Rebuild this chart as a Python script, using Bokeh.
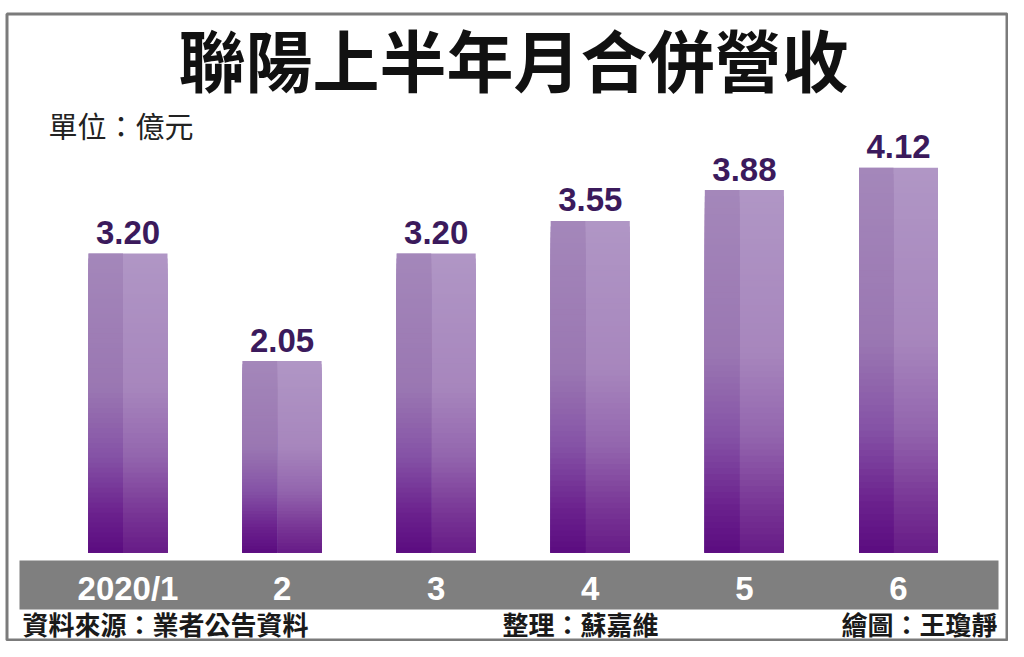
from bokeh.plotting import figure
from bokeh.models import Range1d, ColumnDataSource
from bokeh.core.properties import value
from bokeh.embed import file_html
from bokeh.resources import INLINE

# ---- data ----
months = ["2020/1", "2", "3", "4", "5", "6"]
revenue = [3.20, 2.05, 3.20, 3.55, 3.88, 4.12]
value_labels = ["3.20", "2.05", "3.20", "3.55", "3.88", "4.12"]
title_text = "聯陽上半年月合併營收"
unit_text = "單位：億元"
source_text = "資料來源：業者公告資料"
editor_text = "整理：蘇嘉維"
artist_text = "繪圖：王瓊靜"

# ---- pixel helpers (picture coordinates -> data coordinates) ----
PX_PER_CAT = 154.1
CAT0_PX = 127.5
PX_PER_UNIT = 93.4
BASE_PX = 552.0


def X(px):
    return (px - CAT0_PX) / PX_PER_CAT


def Y(py):
    return (BASE_PX - py) / PX_PER_UNIT


W, H = 1008, 641
p = figure(width=W, height=H, output_backend="svg", toolbar_location=None,
           x_range=Range1d(X(0), X(W)), y_range=Range1d(Y(H), Y(0)),
           x_axis_type=None, y_axis_type=None, min_border=0,
           outline_line_color=None, background_fill_color="white",
           border_fill_color="white")
p.grid.visible = False

# ---- outer frame ----
p.quad(left=[X(6.5)], right=[X(1006.5)], top=[Y(13.5)], bottom=[Y(639.5)],
       fill_color=None, line_color="#7b7b7b", line_width=3)

# ---- gradient bars ----
def hex2rgb(h):
    h = h.lstrip("#")
    return tuple(int(h[i:i + 2], 16) for i in (0, 2, 4))


def interp(stops, t):
    for (t0, c0), (t1, c1) in zip(stops, stops[1:]):
        if t0 <= t <= t1:
            f = (t - t0) / (t1 - t0) if t1 > t0 else 0
            a, b = hex2rgb(c0), hex2rgb(c1)
            return "#%02x%02x%02x" % tuple(round(a[k] + (b[k] - a[k]) * f) for k in range(3))
    return stops[-1][1]


left_stops = [(0.0, "#a487ba"), (0.45, "#9a77b2"), (0.68, "#8552a6"),
              (0.87, "#6b218d"), (1.0, "#5b0c80")]
right_stops = [(0.0, "#b096c5"), (0.45, "#a786bd"), (0.68, "#9365ae"),
               (0.87, "#783595"), (1.0, "#671b87")]

BAR_W = 79 / PX_PER_CAT
SPLIT = -5 / PX_PER_CAT
N = 60
gl, gr, gt, gc = [], [], [], []
# right half drawn full width first, then left half on top; within a half,
# tallest slice first so each shorter one paints over the lower part (no seams)
for stops, side in ((right_stops, "r"), (left_stops, "l")):
    for i, v in enumerate(revenue):
        l = i - BAR_W / 2
        r = i + BAR_W / 2 if side == "r" else i + SPLIT
        for k in range(N - 1, -1, -1):
            gl.append(l); gr.append(r)
            gt.append(v * (k + 1) / N)
            gc.append(interp(stops, 1 - (k + 0.5) / N))
bars = ColumnDataSource(dict(left=gl, right=gr, top=gt, color=gc))
p.quad(left="left", right="right", bottom=0, top="top", source=bars,
       fill_color="color", line_color=None)

# ---- value labels ----
vs = ColumnDataSource(dict(x=list(range(len(revenue))),
                           y=[v + 21 / PX_PER_UNIT for v in revenue], t=value_labels))
p.text(x="x", y="y", text="t", source=vs, text_align="center",
       text_baseline="alphabetic", text_font=value("Liberation Sans"),
       text_font_style="bold", text_font_size="33px", text_color="#3b1a5c")

# ---- category band ----
p.quad(left=[X(19)], right=[X(998)], top=[Y(560)], bottom=[Y(609)],
       fill_color="#7f7f7f", line_color=None)
cs = ColumnDataSource(dict(x=list(range(len(months))), y=[Y(588)] * len(months), t=months))
p.text(x="x", y="y", text="t", source=cs, text_align="center",
       text_baseline="alphabetic", text_font=value("Liberation Sans"),
       text_font_style="bold", text_font_size="33px", text_color="white")

CJK = value("Noto Sans CJK TC")
# ---- title ----
p.text(x=[X(513)], y=[Y(57)], text=[title_text], text_align="center",
       text_baseline="middle", text_font=CJK, text_font_style="bold",
       text_font_size="67px", text_color="#111111")
# ---- unit ----
p.text(x=[X(48)], y=[Y(124)], text=[unit_text], text_align="left",
       text_baseline="middle", text_font=CJK, text_font_size="29px",
       text_color="#222222")
# ---- footer ----
FY = Y(623)
p.text(x=[X(22)], y=[FY], text=[source_text], text_align="left",
       text_baseline="middle", text_font=CJK, text_font_style="bold",
       text_font_size="26px", text_color="#1a1a1a")
p.text(x=[X(502)], y=[FY], text=[editor_text], text_align="left",
       text_baseline="middle", text_font=CJK, text_font_style="bold",
       text_font_size="26px", text_color="#1a1a1a")
p.text(x=[X(997)], y=[FY], text=[artist_text], text_align="right",
       text_baseline="middle", text_font=CJK, text_font_style="bold",
       text_font_size="26px", text_color="#1a1a1a")

open("out.html", "w").write(file_html(p, INLINE))
